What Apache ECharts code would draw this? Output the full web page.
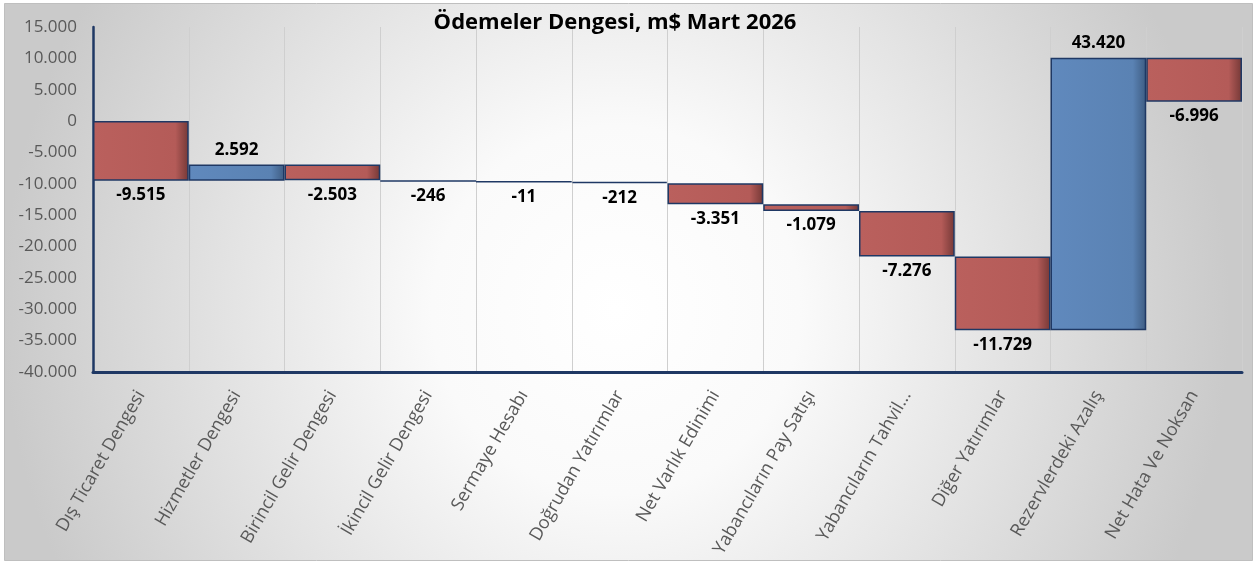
<!DOCTYPE html>
<html>
<head>
<meta charset="utf-8">
<script src="https://cdn.jsdelivr.net/npm/echarts@6/dist/echarts.min.js"></script>
<style>
  html, body { margin: 0; padding: 0; background: #fff; }
  #app { width: 1257px; height: 567px; }
</style>
</head>
<body>
<div id="app"></div>
<script>
// kalemler ve degerleri (m$)
var categories = ['Dış Ticaret Dengesi', 'Hizmetler Dengesi', 'Birincil Gelir Dengesi', 'İkincil Gelir Dengesi',
  'Sermaye Hesabı', 'Doğrudan Yatırımlar', 'Net Varlık Edinimi', 'Yabancıların Pay Satışı',
  'Yabancıların Tahvil...', 'Diğer Yatırımlar', 'Rezervlerdeki Azalış', 'Net Hata Ve Noksan'];
var values = [-9515, 2592, -2503, -246, -11, -212, -3351, -1079, -7276, -11729, 43420, -6996];
var yTicks = [-40000, 15000, 5000]; // min, max, interval

function fmt(v) {
  var s = Math.abs(v).toString().replace(/\B(?=(\d{3})+(?!\d))/g, '.');
  return (v < 0 ? '-' : '') + s;
}

// waterfall: gorunmez taban + gorunen cubuk
var base = [], shown = [];
var run = 0;
values.forEach(function (v) {
  var next = run + v;
  base.push(Math.min(run, next));
  shown.push(Math.abs(v));
  run = next;
});

function barColor(pos) {
  var c = pos ? ['#6089BD', '#5A82B3', '#3E5C82'] : ['#BA605D', '#B45B58', '#743836'];
  return new echarts.graphic.LinearGradient(0, 0, 1, 0, [
    { offset: 0, color: c[0] },
    { offset: 0.86, color: c[1] },
    { offset: 1, color: c[2] }
  ]);
}

var myChart = echarts.init(document.getElementById('app'));

var option = {
  animation: false,
  graphic: [{
    type: 'rect',
    z: -10,
    silent: true,
    shape: { x: 4.5, y: 3.5, width: 1248, height: 557 },
    style: {
      fill: new echarts.graphic.RadialGradient(0.49, 0.55, 1.1, [
        { offset: 0, color: '#FFFFFF' },
        { offset: 0.3, color: '#FAFAFA' },
        { offset: 1, color: '#CACACA' }
      ]),
      stroke: '#BFBFBF',
      lineWidth: 1
    }
  }],
  title: {
    text: 'Ödemeler Dengesi, m$ Mart 2026',
    left: 610,
    top: 7,
    textAlign: 'center',
    textStyle: { fontFamily: 'Open Sans', fontWeight: 'bold', fontSize: 22, color: '#000' }
  },
  grid: { left: 93, right: 15, top: 27, bottom: 195 },
  xAxis: {
    type: 'category',
    data: categories,
    axisLine: { onZero: false, lineStyle: { color: '#1F3864', width: 3 } },
    axisTick: { show: false },
    splitLine: { show: true, lineStyle: { color: '#CFCFCF', width: 1 } },
    axisLabel: {
      interval: 0,
      rotate: 60,
      margin: 20,
      fontFamily: 'Open Sans',
      fontSize: 18,
      color: '#595959'
    }
  },
  yAxis: {
    type: 'value',
    min: yTicks[0],
    max: yTicks[1],
    interval: yTicks[2],
    axisLine: { show: true, lineStyle: { color: '#1F3864', width: 2.5 } },
    axisTick: { show: false },
    splitLine: { show: false },
    axisLabel: {
      formatter: fmt,
      margin: 16,
      fontFamily: 'Open Sans',
      fontSize: 17,
      color: '#595959'
    }
  },
  series: [
    {
      type: 'bar',
      stack: 'w',
      stackStrategy: 'all',
      data: base,
      barCategoryGap: 0,
      itemStyle: { color: 'transparent' },
      silent: true
    },
    {
      type: 'bar',
      stack: 'w',
      stackStrategy: 'all',
      barCategoryGap: 0,
      data: shown.map(function (h, i) {
        var pos = values[i] > 0;
        return {
          value: h,
          itemStyle: { color: barColor(pos), borderColor: '#1F3864', borderWidth: 1.5 },
          label: {
            show: true,
            position: pos ? 'top' : 'bottom',
            distance: 6,
            formatter: fmt(values[i]),
            fontFamily: 'Open Sans',
            fontWeight: 'bold',
            fontSize: 17,
            color: '#000'
          }
        };
      })
    }
  ]
};

myChart.setOption(option);
</script>
</body>
</html>
